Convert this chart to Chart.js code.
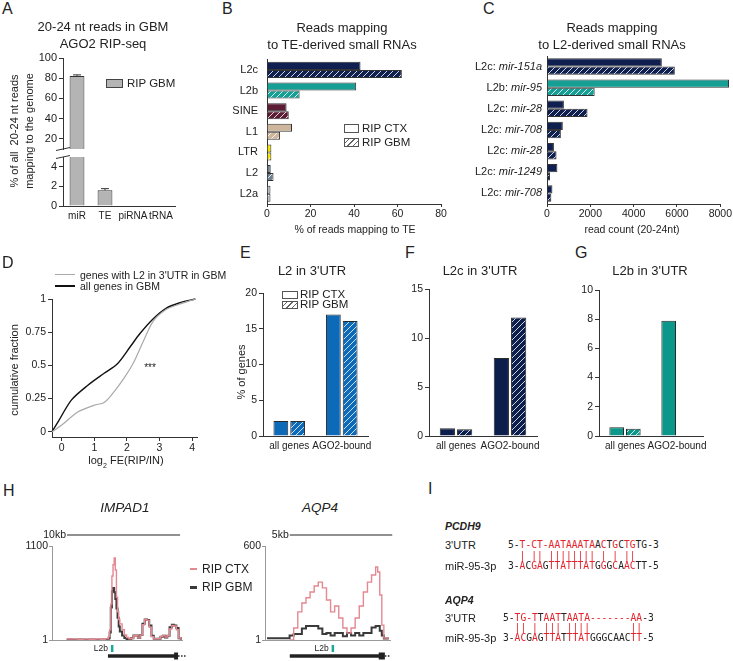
<!DOCTYPE html>
<html><head><meta charset="utf-8">
<script src="https://cdn.jsdelivr.net/npm/chart.js@4.4.1/dist/chart.umd.min.js"></script>
<style>
html,body{margin:0;padding:0;background:#fff;overflow:hidden;}
#root{position:relative;width:733px;height:661px;overflow:hidden;font-family:'Liberation Sans',Arial,sans-serif;color:#222;}
#root canvas{position:absolute;}
.t{position:absolute;white-space:nowrap;line-height:1;}
.seq{font-family:'DejaVu Sans Mono',monospace;}
.seq span{display:inline-block;width:5.8px;text-align:center;}
.seq span.r{color:#e3232c;}
.box{position:absolute;border:1px solid #555;background:#fff;box-sizing:border-box;}
.hb{background:repeating-linear-gradient(-45deg,#fff 0 3px,#666 3px 4px);}
.ln{position:absolute;}
</style></head><body><div id="root"></div>
<script>
// ---------------- DATA ----------------
// A
const aCats = ['miR','TE','piRNA','tRNA'];
const aVals = [82.3, 1.6, 0, 0];
const aErr  = [1.0, 0.17, 0, 0];
const aTicksUpper = [20,40,60,80,100];
const aTicksLower = [0,2,4];
// B
const bCats = ['L2c','L2b','SINE','L1','LTR','L2','L2a'];
const bCtx  = [43, 41, 9, 11.5, 2, 1.7, 1.6];
const bGbm  = [62, 15, 10, 6, 2, 3, 1.6];
const bColors = ['#0f1f4f','#169f95','#5b1e35','#cdb69c','#f2e500','#6d8190','#b5bdc4'];
const bTicks = [0,20,40,60,80];
// C
const cCats = ['L2c: mir-151a','L2b: mir-95','L2c: mir-28','L2c: mir-708','L2c: mir-28','L2c: mir-1249','L2c: mir-708'];
const cCtx  = [5300, 8400, 780, 730, 320, 480, 250];
const cGbm  = [5900, 2200, 1870, 640, 440, 140, 200];
const cColors = ['#0f1f4f','#169f95','#0f1f4f','#0f1f4f','#0f1f4f','#0f1f4f','#0f1f4f'];
const cTicks = [0,2000,4000,6000,8000];
// D
const dAllX = [-0.3,-0.1,0.3,0.8,1.3,1.7,2.1,2.4,2.8,3.2,3.6,4.1];
const dAllY = [0,0.08,0.24,0.35,0.44,0.51,0.64,0.74,0.85,0.93,0.97,1.0];
const dL2X  = [-0.3,0.0,0.5,1.0,1.3,1.6,1.9,2.2,2.5,2.8,3.2,3.6,4.1];
const dL2Y  = [0,0.05,0.15,0.2,0.22,0.3,0.4,0.52,0.68,0.83,0.92,0.96,1.0];
const dXTicks = [0,1,2,3,4];
const dYTicks = [0,0.25,0.5,0.75,1];
// E, F, G
const efgCats = ['all genes','AGO2-bound'];
const eCtx = [2.1, 17];   const eGbm = [2.1, 16.1];
const fCtx = [0.8, 7.95]; const fGbm = [0.7, 12.1];
const gCtx = [0.6, 7.9];  const gGbm = [0.5, null];
const eTicks = [0,5,10,15,20];
const fTicks = [0,5,10,15];
const gTicks = [0,2,4,6,8,10];
// H (positions in kb)
const hImpPos = [1.3,1.8,2.3,2.8,3.3,3.8,4.3,4.7,5.0,5.1,5.2,5.3,5.4,5.5,5.6,5.7,5.8,5.9,6.0,6.2,6.4,6.6,6.8,7.0,7.2,7.4,7.6,7.8,8.0,8.2,8.4,8.6,8.8,9.0,9.3,9.6,9.8,10.0,10.2,10.4,10.6,10.8,11.0,11.2,11.4];
const hImpCtx = [12,12,8,12,10,12,10,15,40,120,420,750,880,960,820,500,330,240,190,120,60,30,15,20,50,55,25,60,180,240,230,150,40,15,15,40,55,35,50,130,170,165,120,25,8];
const hImpGbm = [6,4,6,4,6,4,6,5,20,90,380,570,610,560,480,370,260,160,100,55,25,12,8,20,55,55,25,60,190,240,235,170,50,15,15,40,50,30,50,150,180,170,140,20,5];
const hAqpPos = [0.1,0.5,0.9,1.2,1.4,1.6,1.8,2.0,2.2,2.4,2.6,2.8,3.0,3.2,3.4,3.6,3.8,4.0,4.2,4.4,4.6,4.8,5.0,5.2,5.4,5.5,5.6,5.7,5.8,6.0];
const hAqpCtx = [null,null,null,1,77,180,237,270,307,345,370,333,256,180,218,141,77,45,77,141,218,307,370,415,466,434,288,96,13,1];
const hAqpGbm = [12,12,12,30,40,40,75,90,90,90,75,40,45,30,45,45,25,45,30,45,30,45,45,80,90,90,60,30,10,5];
const hImpTicks = [1,1100];
const hAqpTicks = [1,600];
const hImpTrack = {bar:[1.33,10], barLabel:'10kb', gene:[4.95,11.0], box:[10.8,11.15], dots:[11.15,11.85], l2b:5.3};
const hAqpTrack = {bar:[1.21,5], barLabel:'5kb', gene:[1.21,5.8], box:[5.55,5.85], dots:[5.85,6.1], l2b:3.3};
// I
const iPcdh9Utr  = '5-T-CT-AATAAATAACTGCTGTG-3';
const iPcdh9Pair = '  | || |||||||| | | ||    ';
const iPcdh9Mir  = '3-ACGAGTTATTTATGGGCAACTT-5';
const iAqp4Utr   = '5-TG-TTAATTAATA-------AA-3';
const iAqp4Pair  = '  || | ||| ||||       ||  ';
const iAqp4Mir   = '3-ACGAGTTATTTATGGGCAACTT-5';

// ---------------- HELPERS ----------------
const FONT = "'Liberation Sans', Arial, sans-serif";
Chart.defaults.font.family = FONT;
Chart.defaults.color = '#222';
Chart.defaults.plugins.legend.display = false;
Chart.defaults.plugins.tooltip.enabled = false;
Chart.defaults.animation = false;
Chart.defaults.responsive = false;
Chart.defaults.devicePixelRatio = 1;

const root = document.getElementById('root');
function txt(x,y,s,o={}){
  const d=document.createElement('div'); d.className='t'+(o.cls?' '+o.cls:'');
  d.innerHTML=s;
  const al=o.align||'center';
  const tx = al==='center'?'-50%':(al==='right'?'-100%':'0');
  d.style.left=x+'px'; d.style.top=y+'px';
  d.style.fontSize=(o.size||11)+'px';
  if(o.lh){d.style.lineHeight=o.lh+'px'; d.style.textAlign='center';}
  if(o.style) d.style.cssText += o.style;
  d.style.transform=`translate(${tx},-50%)`+(o.rot?' rotate(-90deg)':'');
  root.appendChild(d); return d;
}
function el(cls,l,t,w,h,extra){const d=document.createElement('div');d.className=cls;d.style.left=l+'px';d.style.top=t+'px';d.style.width=w+'px';d.style.height=h+'px';if(extra)d.style.cssText+=extra;root.appendChild(d);return d;}
function mk(l,t,w,h,cfg){
  const c=document.createElement('canvas'); c.width=w; c.height=h;
  c.style.left=l+'px'; c.style.top=t+'px'; c.style.width=w+'px'; c.style.height=h+'px';
  root.appendChild(c);
  return new Chart(c.getContext('2d'), cfg);
}
function hatch(base, line){
  const c=document.createElement('canvas'); c.width=6; c.height=6;
  const x=c.getContext('2d'); x.fillStyle=base; x.fillRect(0,0,6,6);
  x.strokeStyle=line||'rgba(255,255,255,0.9)'; x.lineWidth=0.9;
  x.beginPath(); x.moveTo(0,6); x.lineTo(6,0); x.moveTo(-1,1); x.lineTo(1,-1); x.moveTo(5,7); x.lineTo(7,5); x.stroke();
  return x.createPattern(c,'repeat');
}
function linAxis(o){
  const ax = {
    type:'linear', min:o.min, max:o.max, display:o.display!==false,
    afterBuildTicks: s => { s.ticks = o.ticks.map(v=>({value:v})); },
    border:{display:true,color:o.color||'#333',width:1},
    grid:{display:true,drawOnChartArea:false,drawTicks:(o.tl||0)>0,tickLength:o.tl||0,color:o.color||'#333'},
    ticks:{display:o.showTicks!==false,font:{size:o.fs||10.5},padding:o.pad==null?2:o.pad,color:'#222',
           maxRotation:0,minRotation:0,autoSkip:false,callback:v=>String(v)}
  };
  if(o.w!=null) ax.afterFit = s=>{s.width=o.w;};
  if(o.h!=null) ax.afterFit = s=>{s.height=o.h;};
  return ax;
}
function catAxis(o){
  const ax = {
    type:'category', display:true,
    border:{display:true,color:o.color||'#333',width:1},
    grid:{display:true,drawOnChartArea:false,drawTicks:false,color:o.color||'#333'},
    ticks:{display:o.showTicks!==false,font:{size:o.fs||11},padding:o.pad==null?4:o.pad,color:'#222',
           maxRotation:0,minRotation:0,autoSkip:false}
  };
  if(o.w!=null) ax.afterFit = s=>{s.width=o.w;};
  if(o.h!=null) ax.afterFit = s=>{s.height=o.h;};
  return ax;
}
const errPlugin = {id:'err', afterDatasetsDraw(chart,args,o){
  if(!o.errors) return;
  const ctx=chart.ctx, a=chart.chartArea, ys=chart.scales.y, meta=chart.getDatasetMeta(0);
  ctx.save(); ctx.beginPath(); ctx.rect(a.left,a.top-2,a.right-a.left,a.bottom-a.top+2); ctx.clip();
  ctx.strokeStyle='#333'; ctx.lineWidth=1;
  o.errors.forEach((e,i)=>{ if(!e) return;
    const v=chart.data.datasets[0].data[i], x=meta.data[i].x;
    const y0=ys.getPixelForValue(v), y1=ys.getPixelForValue(v+e);
    ctx.beginPath(); ctx.moveTo(x,y0); ctx.lineTo(x,y1); ctx.moveTo(x-4,y1); ctx.lineTo(x+4,y1); ctx.stroke();
  });
  ctx.restore();
}};
const brkPlugin = {id:'brk', afterDraw(chart,args,o){
  if(!o.where) return;
  const a=chart.chartArea, c=chart.ctx, y=o.where==='bottom'?a.bottom:a.top;
  c.save(); c.strokeStyle='#333'; c.lineWidth=1; c.beginPath(); c.moveTo(a.left-7,y+1.5); c.lineTo(a.left+7,y-1.5); c.stroke(); c.restore();
}};
const mixLabels = {id:'mixLabels', afterDraw(chart){
  const ys=chart.scales.y, ctx=chart.ctx, xr=chart.chartArea.left-5;
  ctx.save(); ctx.fillStyle='#222'; ctx.textBaseline='middle'; ctx.textAlign='left';
  chart.data.labels.forEach((lab,i)=>{
    const y=ys.getPixelForValue(i); const parts=lab.split(': ');
    ctx.font='italic 11px '+FONT; const wI=ctx.measureText(parts[1]).width;
    ctx.fillText(parts[1], xr-wI, y);
    ctx.font='11px '+FONT; const p=parts[0]+': '; const wP=ctx.measureText(p).width;
    ctx.fillText(p, xr-wI-wP, y);
  });
  ctx.restore();
}};
const trackPlugin = {id:'track', afterDraw(chart,args,o){
  if(!o.bar) return;
  const xs=chart.scales.x, a=chart.chartArea, ctx=chart.ctx; const X=v=>xs.getPixelForValue(v);
  ctx.save();
  const y0=a.top-11;
  ctx.strokeStyle='#222'; ctx.lineWidth=1.2; ctx.beginPath(); ctx.moveTo(X(o.bar[0]),y0); ctx.lineTo(X(o.bar[0]+o.bar[1]),y0); ctx.stroke();
  ctx.fillStyle='#222'; ctx.font='10.5px '+FONT; ctx.textAlign='right'; ctx.textBaseline='middle';
  ctx.fillText(o.barLabel, X(o.bar[0])-1, y0);
  const gy=a.bottom+16;
  ctx.lineWidth=3.5; ctx.beginPath(); ctx.moveTo(X(o.gene[0]),gy); ctx.lineTo(X(o.gene[1]),gy); ctx.stroke();
  ctx.fillRect(X(o.box[0]), gy-3.5, X(o.box[1])-X(o.box[0]), 7);
  ctx.lineWidth=1.5; ctx.setLineDash([1.5,1.5]); ctx.beginPath(); ctx.moveTo(X(o.dots[0]),gy); ctx.lineTo(X(o.dots[1]),gy); ctx.stroke(); ctx.setLineDash([]);
  const lx=X(o.l2b);
  ctx.fillStyle='#19a89a'; ctx.fillRect(lx-1, a.bottom+5, 2.5, 7);
  ctx.fillStyle='#222'; ctx.font='8.5px '+FONT; ctx.fillText('L2b', lx-4, a.bottom+9);
  ctx.restore();
}};

// ---------------- PANEL A ----------------
function aCfg(min,max,ticks,where,showX,pad){
  return {type:'bar',
    data:{labels:aCats,datasets:[{data:aVals,backgroundColor:'#b4b4b4',borderColor:'#333',borderWidth:1,barPercentage:0.53,categoryPercentage:1}]},
    options:{layout:{padding:pad},
      scales:{x: showX? catAxis({h:18,pad:4,fs:10}) : {display:false},
              y: linAxis({min,max,ticks,w:63,tl:4,fs:11,pad:2})},
      plugins:{err:{errors:aErr},brk:{where}}},
    plugins:[errPlugin,brkPlugin]};
}
mk(0,46,188,115,aCfg(10,100,aTicksUpper,'bottom',false,{top:12,right:13,bottom:12,left:0}));
mk(0,145,188,83,aCfg(0,5,aTicksLower,'top',true,{top:12,right:13,bottom:4,left:0}));

// ---------------- PANEL B ----------------
mk(222,44,228,182,{type:'bar',
  data:{labels:bCats,datasets:[
    {data:bCtx,backgroundColor:bColors,borderColor:'#333',borderWidth:1,barPercentage:1,categoryPercentage:0.78},
    {data:bGbm,backgroundColor:bColors.map(c=>hatch(c)),borderColor:'#333',borderWidth:1,barPercentage:1,categoryPercentage:0.78}]},
  options:{indexAxis:'y',layout:{padding:{top:12,right:9,bottom:4,left:0}},
    scales:{x:linAxis({min:0,max:80,ticks:bTicks,h:18,tl:3,pad:1,fs:10.5}),
            y:catAxis({w:45,pad:9,fs:11})}}});

// ---------------- PANEL C ----------------
mk(470,44,263,182,{type:'bar',
  data:{labels:cCats,datasets:[
    {data:cCtx,backgroundColor:cColors,borderColor:'#333',borderWidth:1,barPercentage:1,categoryPercentage:0.78,clip:false},
    {data:cGbm,backgroundColor:cColors.map(c=>hatch(c)),borderColor:'#333',borderWidth:1,barPercentage:1,categoryPercentage:0.78,clip:false}]},
  options:{indexAxis:'y',layout:{padding:{top:12,right:11,bottom:4,left:0}},
    scales:{x:linAxis({min:0,max:8000,ticks:cTicks,h:18,tl:3,pad:1,fs:10.5}),
            y:catAxis({w:77,showTicks:false})}},
  plugins:[mixLabels]});

// ---------------- PANEL D ----------------
mk(0,287,210,172,{type:'line',
  data:{datasets:[
    {data:dL2X.map((x,i)=>({x,y:dL2Y[i]})),borderColor:'#a9a9a9',borderWidth:1.2,pointRadius:0,tension:0.3,clip:3},
    {data:dAllX.map((x,i)=>({x,y:dAllY[i]})),borderColor:'#111',borderWidth:1.4,pointRadius:0,tension:0.3,clip:3}]},
  options:{layout:{padding:{top:12,right:13,bottom:4,left:0}},
    scales:{x:linAxis({min:-0.3,max:4.15,ticks:dXTicks,h:18,tl:4,pad:1,fs:10.5}),
            y:linAxis({min:-0.04,max:1,ticks:dYTicks,w:52,tl:4,pad:2,fs:10.5})}}});

// ---------------- PANELS E F G ----------------
function efg(l,t,w,h,yw,right,ctxV,gbmV,color,ymax,ticks){
  return mk(l,t,w,h,{type:'bar',
    data:{labels:efgCats,datasets:[
      {data:ctxV,backgroundColor:color,borderColor:'#2a2a2a',borderWidth:1,barPercentage:0.88,categoryPercentage:0.64},
      {data:gbmV,backgroundColor:hatch(color),borderColor:'#2a2a2a',borderWidth:1,barPercentage:0.88,categoryPercentage:0.64}]},
    options:{layout:{padding:{top:12,right:w-(right-l),bottom:4,left:0}},
      scales:{x:catAxis({h:18,pad:4,fs:10}),
              y:linAxis({min:0,max:ymax,ticks,w:yw,tl:4,pad:2,fs:10.5})}}});
}
efg(222,281,165,177,41,368,eCtx,eGbm,'#0d6ab8',20,eTicks);
efg(395,277,165,181,34,537,fCtx,fGbm,'#0c1f4c',15,fTicks);
efg(565,278,160,180,34,703,gCtx,gGbm,'#0b978a',10,gTicks);

// ---------------- PANEL H ----------------
function track(l,w,pos,ctxV,gbmV,xmax,ymax,ticks,tr){
  return mk(l,524,w,137,{type:'line',
    data:{datasets:[
      {data:pos.map((x,i)=>({x,y:ctxV[i]})),borderColor:'#e48891',borderWidth:1.4,pointRadius:0,stepped:true,spanGaps:false},
      {data:pos.map((x,i)=>({x,y:gbmV[i]})),borderColor:'#3a3a3a',borderWidth:2,pointRadius:0,stepped:true}]},
    options:{layout:{padding:{top:22,right:13,bottom:21,left:0}},
      scales:{x:linAxis({min:0,max:xmax,ticks:[],showTicks:false,color:'#999',h:0,tl:0}),
              y:linAxis({min:1,max:ymax,ticks,w:32,tl:3,pad:1,fs:10.5,color:'#999'})},
      plugins:{track:tr}},
    plugins:[trackPlugin]});
}
track(20,175,hImpPos,hImpCtx,hImpGbm,11.5,1100,hImpTicks,hImpTrack);
track(233,170,hAqpPos,hAqpCtx,hAqpGbm,6.1,600,hAqpTicks,hAqpTrack);

// ---------------- TEXT ----------------
const L = (x,y,s)=>{const d=txt(x,y,s,{size:16,align:'left'}); d.style.transform='none';};
L(2,1,'A'); L(222,1,'B'); L(483,1,'C'); L(2,255,'D'); L(240,245,'E'); L(405,245,'F'); L(575,245,'G'); L(3,483,'H'); L(428,481,'I');

txt(103,35,'20-24 nt reads in GBM<br>AGO2 RIP-seq',{size:13,lh:16.5});
txt(14,131,'% of all&nbsp; 20-24 nt reads',{size:11,rot:true});
txt(29,131,'mapping to the genome',{size:11,rot:true});
el('box',106,79,17,9,'background:#b4b4b4;border-color:#444;');
txt(127,84,'RIP GBM',{size:11.5,align:'left'});

txt(342,35.5,'Reads mapping<br>to TE-derived small RNAs',{size:13,lh:17});
txt(355,229,'% of reads mapping to TE',{size:10.5});
el('box',344,124,15,9);
el('box hb',344,138,15,9);
txt(362,129,'RIP CTX',{size:11.5,align:'left'});
txt(362,143,'RIP GBM',{size:11.5,align:'left'});

txt(612,35.5,'Reads mapping<br>to L2-derived small RNAs',{size:13,lh:17});
txt(632,229,'read count (20-24nt)',{size:10.5});

el('ln',55,274,20,1,'background:#a9a9a9;');
el('ln',55,285,20,2,'background:#111;');
txt(80,275,"genes with L2 in 3'UTR in GBM",{size:10.5,align:'left'});
txt(80,286,'all genes in GBM',{size:10.5,align:'left'});
txt(14,370,'cumulative fraction',{size:11,rot:true});
txt(126,462,'log<sub style="font-size:7px">2</sub> FE(RIP/IN)',{size:11});
txt(150,368,'***',{size:10});

txt(312,270,"L2 in 3'UTR",{size:13});
txt(480,270,"L2c in 3'UTR",{size:13});
txt(650,270,"L2b in 3'UTR",{size:13});
txt(241,372,'% of genes',{size:11,rot:true});
el('box',282,291,16,8);
el('box hb',282,301,16,8);
txt(300,295,'RIP CTX',{size:11.5,align:'left'});
txt(300,305,'RIP GBM',{size:11.5,align:'left'});

txt(125,508,'IMPAD1',{size:13.5,style:'font-style:italic;'});
txt(320,508,'AQP4',{size:13.5,style:'font-style:italic;'});
el('ln',190,568,7,2,'background:#e48891;');
el('ln',190,586,7,2.5,'background:#3a3a3a;');
txt(202,569,'RIP CTX',{size:12,align:'left'});
txt(202,587,'RIP GBM',{size:12,align:'left'});

// Panel I
function seqLine(x,y,str,pair,isUtr,isPair){
  let h='';
  for(let i=0;i<str.length;i++){
    const ch=str[i]===' '?'&nbsp;':str[i];
    const red = isPair ? str[i]==='|' : (pair[i]==='|' || (isUtr && str[i]==='-' && i>=2 && i<=str.length-3));
    h += `<span${red?' class="r"':''}>${ch}</span>`;
  }
  txt(x,y,h,{size:9.6,align:'left',cls:'seq'});
}
txt(445,526,'PCDH9',{size:10.5,align:'left',style:'font-weight:bold;font-style:italic;'});
txt(445,545,"3'UTR",{size:11,align:'left'});
txt(445,566,'miR-95-3p',{size:11,align:'left'});
seqLine(508,545,iPcdh9Utr,iPcdh9Pair,true,false);
seqLine(508,555.5,iPcdh9Pair,iPcdh9Pair,false,true);
seqLine(508,566,iPcdh9Mir,iPcdh9Pair,false,false);
txt(445,600,'AQP4',{size:10.5,align:'left',style:'font-weight:bold;font-style:italic;'});
txt(445,618,"3'UTR",{size:11,align:'left'});
txt(445,638,'miR-95-3p',{size:11,align:'left'});
seqLine(503,618,iAqp4Utr,iAqp4Pair,true,false);
seqLine(503,628,iAqp4Pair,iAqp4Pair,false,true);
seqLine(503,638,iAqp4Mir,iAqp4Pair,false,false);
</script></body></html>
